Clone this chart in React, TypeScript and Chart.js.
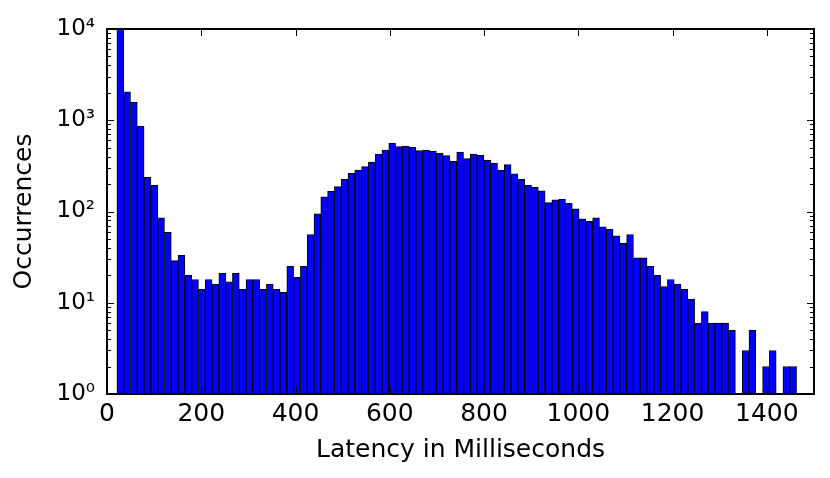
import React, { useEffect, useRef } from 'react';
import { Chart, registerables } from 'chart.js';

Chart.register(...registerables);

// Histogram bins (milliseconds)
const BIN_START_MS = 21;
const BIN_WIDTH_MS = 14.42;

// Occurrences per bin (null = empty bin)
const headCounts = [10000, 2050, 1570, 865, 237, 194, 85, 59, 29, 33, 20, 18, 14, 18, 16, 21, 17, 21, 14, 18, 18, 14, 16, 14, 13, 25, 19, 25];
const bodyCounts = [56, 94, 145, 166, 187, 225, 262, 285, 310, 349, 427, 472, 559, 513, 522, 505, 464, 472, 457, 434, 410, 355, 449, 379, 427, 413, 367, 338, 285, 326, 258, 225, 194, 184, 169];
const tailCounts = [125, 134, 136, 123, 107, 83, 78, 85, 68, 64, 54, 45, 56, 31, 31, 25, 20, 15, 18, 16, 14, 11, 6, 8, 6, 6, 6, 5, null, 3, 5, null, 2, 3, null, 2, 2];

const xTickValues = [0, 200, 400, 600, 800, 1000, 1200, 1400];
const xTickLabels = ['0', '200', '400', '600', '800', '1000', '1200', '1400'];
const yTickValues = [1, 10, 100, 1000, 10000];
const yTickLabels = ['10\u2070', '10\u00B9', '10\u00B2', '10\u00B3', '10\u2074'];

const X_LABEL = 'Latency in Milliseconds';
const Y_LABEL = 'Occurrences';

const FAMILY = '"DejaVu Sans", sans-serif';
const LABEL_FONT = { family: FAMILY, size: 25 };
const XTICK_FONT = { family: FAMILY, size: 25 };
const YTICK_FONT = { family: FAMILY, size: 23 };

const frameTicks = {
  id: 'frameTicks',
  afterDraw(chart: any) {
    const { ctx, chartArea, scales } = chart;
    const { left, right, top, bottom } = chartArea;
    const x = scales.x;
    const y = scales.y;
    ctx.save();
    ctx.strokeStyle = '#000';
    ctx.lineWidth = 1;
    const line = (x1: number, y1: number, x2: number, y2: number) => {
      ctx.beginPath();
      ctx.moveTo(x1, y1);
      ctx.lineTo(x2, y2);
      ctx.stroke();
    };
    for (const v of xTickValues) {
      const px = Math.round(x.getPixelForValue(v)) + 0.5;
      line(px, bottom, px, bottom - 7);
      line(px, top, px, top + 7);
    }
    for (let k = 0; k < 4; k++) {
      for (let m = 1; m <= 9; m++) {
        const v = m * Math.pow(10, k);
        const py = Math.round(y.getPixelForValue(v)) + 0.5;
        const len = m === 1 ? 7 : 4;
        line(left, py, left + len, py);
        line(right, py, right - len, py);
      }
    }
    ctx.lineWidth = 2;
    ctx.strokeRect(left, top, right - left, bottom - top);
    ctx.restore();
  },
};

export default function App() {
  const canvasRef = useRef<HTMLCanvasElement | null>(null);

  useEffect(() => {
    const canvas = canvasRef.current;
    if (!canvas) return;
    const counts = [...headCounts, ...bodyCounts, ...tailCounts];
    const data = counts.map((c, i) => ({ x: BIN_START_MS + (i + 0.5) * BIN_WIDTH_MS, y: c }));

    const chart = new Chart(canvas, {
      type: 'bar',
      data: {
        datasets: [
          {
            data: data as any,
            backgroundColor: '#0000ff',
            borderColor: '#000000',
            borderWidth: 1,
            borderSkipped: false,
            barPercentage: 1,
            categoryPercentage: 1,
          },
        ],
      },
      options: {
        responsive: false,
        animation: false,
        layout: { padding: { top: 29, right: 16, bottom: 0, left: 0 } },
        plugins: { legend: { display: false }, tooltip: { enabled: false } },
        scales: {
          x: {
            type: 'linear',
            min: 0,
            max: 1500,
            offset: false,
            grid: { display: false, drawTicks: false },
            border: { display: false },
            afterBuildTicks: (s: any) => {
              s.ticks = xTickValues.map((v) => ({ value: v }));
            },
            afterFit: (s: any) => {
              s.height = 84;
            },
            ticks: {
              font: XTICK_FONT,
              color: '#000',
              padding: 5,
              maxRotation: 0,
              autoSkip: false,
              callback: (_v: any, i: number) => xTickLabels[i],
            },
            title: { display: true, text: X_LABEL, font: LABEL_FONT, color: '#000', padding: { top: 0, bottom: 13 } },
          },
          y: {
            type: 'logarithmic',
            min: 1,
            max: 10000,
            grid: { display: false, drawTicks: false },
            border: { display: false },
            afterBuildTicks: (s: any) => {
              s.ticks = yTickValues.map((v) => ({ value: v }));
            },
            afterFit: (s: any) => {
              s.width = 107;
            },
            ticks: {
              font: YTICK_FONT,
              color: '#000',
              padding: 12,
              autoSkip: false,
              callback: (_v: any, i: number) => yTickLabels[i],
            },
            title: { display: true, text: Y_LABEL, font: LABEL_FONT, color: '#000', padding: { top: 9, bottom: 0 } },
          },
        },
      } as any,
      plugins: [frameTicks],
    });
    return () => chart.destroy();
  }, []);

  return (
    <div style={{ position: 'absolute', left: 0, top: 0, width: 830, height: 478, background: '#fff' }}>
      <canvas ref={canvasRef} width={830} height={478} style={{ display: 'block' }} />
    </div>
  );
}
